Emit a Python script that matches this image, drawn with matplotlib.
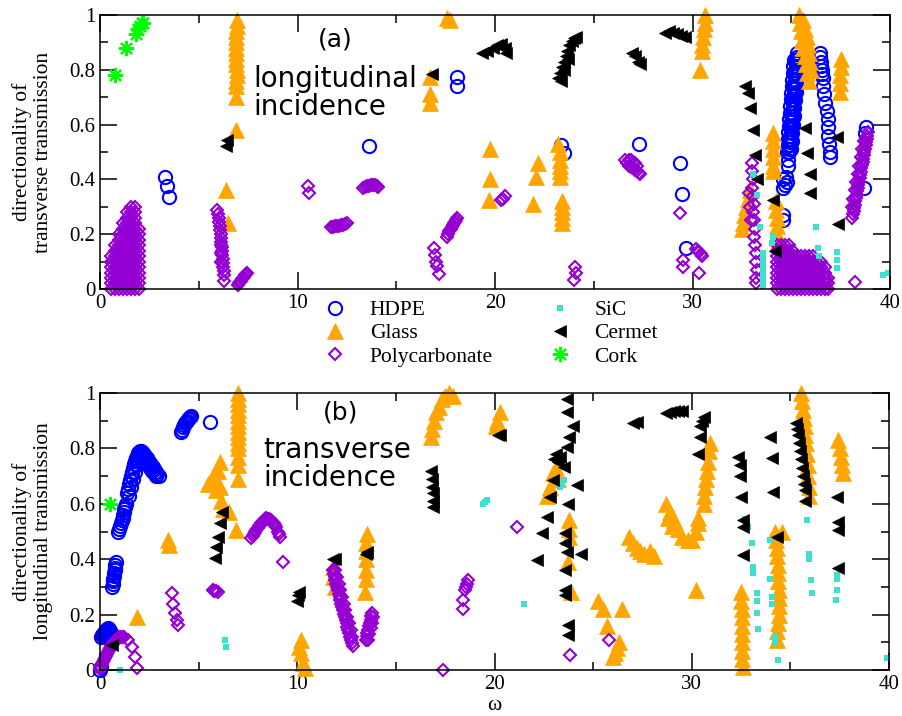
import matplotlib
matplotlib.use('Agg')
import matplotlib.pyplot as plt
from matplotlib.ticker import MultipleLocator, FuncFormatter
import numpy as np

plt.rcParams['font.family'] = 'serif'
plt.rcParams['font.serif'] = ['Liberation Serif', 'DejaVu Serif']

# (omega, directionality) pairs
# ---- panel (a): longitudinal incidence ----
hdpe_a = [(3.3, 0.41), (3.38, 0.375), (3.48, 0.335), (13.6, 0.52), (18.1, 0.775), (18.05, 0.74),
          (23.35, 0.525), (23.5, 0.495), (27.3, 0.53), (29.35, 0.46), (29.45, 0.345), (29.65, 0.15),
          (34.58, 0.25), (34.6, 0.27), (34.6, 0.37), (34.7, 0.38), (34.8, 0.39), (34.6, 0.40), (34.75, 0.41),
          (34.85, 0.45), (34.85, 0.47),
          (34.90, 0.500), (34.91, 0.512), (34.93, 0.524), (34.94, 0.536), (34.95, 0.548), (34.96, 0.560),
          (34.98, 0.572), (34.99, 0.584), (35.00, 0.596), (35.01, 0.608), (35.03, 0.620), (35.04, 0.632),
          (35.05, 0.644), (35.07, 0.656), (35.08, 0.668), (35.09, 0.680), (35.10, 0.692), (35.12, 0.704),
          (35.13, 0.716), (35.14, 0.728), (35.15, 0.740), (35.17, 0.752), (35.18, 0.764), (35.19, 0.776),
          (35.21, 0.788), (35.22, 0.800), (35.23, 0.812), (35.24, 0.824), (35.26, 0.836), (35.27, 0.848),
          (35.28, 0.860),
          (34.78, 0.50), (34.81, 0.524), (34.83, 0.548), (34.86, 0.572), (34.88, 0.596), (34.91, 0.62),
          (34.93, 0.644), (34.96, 0.668), (34.98, 0.692), (35.0, 0.716), (35.02, 0.74), (35.05, 0.764),
          (35.07, 0.788), (35.1, 0.812), (35.12, 0.836),
          (35.0, 0.51), (35.03, 0.54), (35.06, 0.57), (35.1, 0.60), (35.13, 0.63), (35.16, 0.66),
          (35.19, 0.69), (35.22, 0.72), (35.25, 0.75), (35.28, 0.78), (35.31, 0.81), (35.34, 0.84),
          (36.45, 0.86), (36.48, 0.845), (36.5, 0.83), (36.53, 0.815), (36.55, 0.80), (36.58, 0.785),
          (36.6, 0.77), (36.62, 0.74), (36.67, 0.71), (36.72, 0.68), (36.8, 0.65), (36.86, 0.62),
          (36.88, 0.59), (36.88, 0.56), (36.92, 0.53), (36.96, 0.50), (36.98, 0.48),
          (38.8, 0.59), (38.72, 0.57), (38.7, 0.37)]
glass_a = [(6.4, 0.36), (6.5, 0.24), (6.9, 0.58), (6.88, 0.70), (6.9, 0.74), (6.9, 0.76), (6.92, 0.78),
           (6.92, 0.80), (6.9, 0.82), (6.9, 0.84), (6.9, 0.86), (6.88, 0.88), (6.88, 0.90), (6.9, 0.92),
           (6.9, 0.94), (6.92, 0.96), (6.92, 0.98), (16.7, 0.68), (16.7, 0.71), (16.72, 0.775),
           (17.55, 0.99), (17.7, 0.98), (19.7, 0.325), (19.75, 0.40), (19.75, 0.51),
           (21.94, 0.31), (22.08, 0.41), (22.2, 0.46),
           (23.4, 0.24), (23.4, 0.26), (23.4, 0.28), (23.4, 0.30), (23.4, 0.32), (23.3, 0.41), (23.3, 0.43),
           (23.3, 0.45), (23.3, 0.47), (23.3, 0.50), (23.2, 0.53),
           (30.4, 0.80), (30.5, 0.87), (30.5, 0.89), (30.55, 0.92), (30.6, 0.95), (30.65, 0.97), (30.65, 1.0),
           (32.5, 0.22), (32.55, 0.24), (32.6, 0.27), (32.7, 0.30), (32.8, 0.33), (32.9, 0.36),
           (34.1, 0.43), (34.1, 0.45), (34.1, 0.48), (34.1, 0.51), (34.1, 0.54), (34.1, 0.57),
           (34.32, 0.17), (34.3, 0.20), (34.3, 0.23), (34.27, 0.26), (34.25, 0.29), (34.25, 0.32),
           (35.4, 1.0), (35.45, 0.97), (35.5, 0.94), (35.55, 0.91), (35.6, 0.88), (35.7, 0.85),
           (35.75, 0.82), (35.8, 0.79), (35.9, 0.76), (35.6, 0.98), (35.7, 0.95), (35.8, 0.92),
           (35.85, 0.89), (35.9, 0.86), (35.95, 0.83), (36.0, 0.80),
           (37.45, 0.72), (37.45, 0.75), (37.45, 0.78), (37.5, 0.81), (37.5, 0.84)]
poly_a = [(0.55, 0.0), (0.55, 0.02), (0.55, 0.04), (0.55, 0.06), (0.55, 0.08), (0.55, 0.10), (0.55, 0.12),
          (0.75, 0.0), (0.75, 0.02), (0.75, 0.04), (0.75, 0.06), (0.75, 0.08), (0.75, 0.10), (0.75, 0.12),
          (0.75, 0.14), (0.75, 0.16),
          (0.95, 0.0), (0.95, 0.02), (0.95, 0.04), (0.95, 0.06), (0.95, 0.08), (0.95, 0.10), (0.95, 0.12),
          (0.95, 0.14), (0.95, 0.16), (0.95, 0.18), (0.95, 0.20),
          (1.15, 0.0), (1.15, 0.02), (1.15, 0.04), (1.15, 0.06), (1.15, 0.08), (1.15, 0.10), (1.15, 0.12),
          (1.15, 0.14), (1.15, 0.16), (1.15, 0.18), (1.15, 0.20), (1.15, 0.22), (1.15, 0.24),
          (1.35, 0.0), (1.35, 0.02), (1.35, 0.04), (1.35, 0.06), (1.35, 0.08), (1.35, 0.10), (1.35, 0.12),
          (1.35, 0.14), (1.35, 0.16), (1.35, 0.18), (1.35, 0.20), (1.35, 0.22), (1.35, 0.24), (1.35, 0.26),
          (1.35, 0.28),
          (1.55, 0.0), (1.55, 0.02), (1.55, 0.04), (1.55, 0.06), (1.55, 0.08), (1.55, 0.10), (1.55, 0.12),
          (1.55, 0.14), (1.55, 0.16), (1.55, 0.18), (1.55, 0.20), (1.55, 0.22), (1.55, 0.24), (1.55, 0.26),
          (1.55, 0.28), (1.55, 0.30),
          (1.75, 0.0), (1.75, 0.02), (1.75, 0.04), (1.75, 0.06), (1.75, 0.08), (1.75, 0.10), (1.75, 0.12),
          (1.75, 0.14), (1.75, 0.16), (1.75, 0.18), (1.75, 0.20), (1.75, 0.22), (1.75, 0.24), (1.75, 0.26),
          (1.75, 0.28), (1.75, 0.30),
          (1.95, 0.0), (1.95, 0.02), (1.95, 0.04), (1.95, 0.06), (1.95, 0.08), (1.95, 0.10), (1.95, 0.12),
          (1.95, 0.14), (1.95, 0.16), (1.95, 0.18), (1.95, 0.20), (1.95, 0.22),
          (5.94, 0.29), (5.97, 0.275), (6.0, 0.26), (6.04, 0.245), (6.06, 0.23), (6.08, 0.215),
          (6.1, 0.20), (6.12, 0.185), (6.14, 0.17), (6.16, 0.155), (6.18, 0.14), (6.2, 0.125),
          (6.22, 0.11), (6.24, 0.095), (6.25, 0.08), (6.26, 0.065), (6.27, 0.05), (6.28, 0.03),
          (6.1, 0.16), (6.12, 0.13), (6.15, 0.10),
          (7.0, 0.015), (7.05, 0.02), (7.1, 0.025), (7.15, 0.03), (7.2, 0.035), (7.25, 0.04), (7.3, 0.045),
          (7.35, 0.05), (7.4, 0.055), (7.45, 0.06),
          (10.55, 0.375), (10.58, 0.35),
          (11.7, 0.225), (11.8, 0.227), (11.9, 0.23), (12.0, 0.23), (12.1, 0.23), (12.2, 0.232),
          (12.3, 0.235), (12.4, 0.237), (12.5, 0.24),
          (13.3, 0.37), (13.4, 0.372), (13.5, 0.375), (13.6, 0.377), (13.7, 0.378), (13.8, 0.379),
          (13.9, 0.38), (14.0, 0.375), (14.05, 0.372),
          (16.9, 0.148), (16.95, 0.125), (17.0, 0.10), (17.05, 0.085), (17.15, 0.055),
          (17.55, 0.19), (17.6, 0.20), (17.65, 0.21), (17.7, 0.215), (17.75, 0.22), (17.8, 0.228),
          (17.85, 0.235), (17.9, 0.24), (17.95, 0.245), (18.0, 0.25), (18.05, 0.26),
          (20.3, 0.325), (20.4, 0.33), (20.5, 0.34),
          (24.05, 0.08), (24.1, 0.057), (24.0, 0.033),
          (26.6, 0.47), (26.7, 0.46), (26.8, 0.45), (26.9, 0.445), (27.0, 0.44), (27.1, 0.435),
          (27.2, 0.43), (27.3, 0.425), (27.35, 0.42), (26.8, 0.47), (26.9, 0.47), (27.0, 0.465), (27.1, 0.46),
          (27.2, 0.45),
          (29.37, 0.276), (29.54, 0.106), (29.5, 0.08), (30.2, 0.145), (30.28, 0.14), (30.35, 0.135),
          (30.42, 0.128), (30.5, 0.12), (30.35, 0.06),
          (32.85, 0.35), (32.9, 0.30), (32.95, 0.25),
          (33.0, 0.46), (33.0, 0.43), (33.05, 0.40), (33.0, 0.37), (33.05, 0.34), (33.1, 0.31),
          (33.05, 0.28), (33.1, 0.25), (33.15, 0.22), (33.1, 0.19), (33.15, 0.16), (33.2, 0.13),
          (33.2, 0.10), (33.25, 0.07), (33.2, 0.04), (33.2, 0.02),
          (34.3, 0.0), (34.3, 0.02), (34.3, 0.04), (34.3, 0.06), (34.3, 0.08), (34.3, 0.10), (34.3, 0.12),
          (34.3, 0.14), (34.3, 0.16),
          (34.5, 0.0), (34.5, 0.02), (34.5, 0.04), (34.5, 0.06), (34.5, 0.08), (34.5, 0.10), (34.5, 0.12),
          (34.5, 0.14), (34.5, 0.16),
          (34.7, 0.0), (34.7, 0.02), (34.7, 0.04), (34.7, 0.06), (34.7, 0.08), (34.7, 0.10), (34.7, 0.12),
          (34.7, 0.14), (34.7, 0.16),
          (34.9, 0.0), (34.9, 0.02), (34.9, 0.04), (34.9, 0.06), (34.9, 0.08), (34.9, 0.10), (34.9, 0.12),
          (34.9, 0.14), (34.9, 0.16),
          (35.1, 0.0), (35.1, 0.02), (35.1, 0.04), (35.1, 0.06), (35.1, 0.08), (35.1, 0.10), (35.1, 0.12),
          (35.1, 0.14),
          (35.3, 0.0), (35.3, 0.02), (35.3, 0.04), (35.3, 0.06), (35.3, 0.08), (35.3, 0.10), (35.3, 0.12),
          (35.5, 0.0), (35.5, 0.02), (35.5, 0.04), (35.5, 0.06), (35.5, 0.08), (35.5, 0.10), (35.5, 0.12),
          (35.7, 0.0), (35.7, 0.02), (35.7, 0.04), (35.7, 0.06), (35.7, 0.08), (35.7, 0.10), (35.7, 0.12),
          (35.9, 0.0), (35.9, 0.02), (35.9, 0.04), (35.9, 0.06), (35.9, 0.08), (35.9, 0.10), (35.9, 0.12),
          (36.1, 0.0), (36.1, 0.02), (36.1, 0.04), (36.1, 0.06), (36.1, 0.08), (36.1, 0.10), (36.1, 0.12),
          (36.3, 0.0), (36.3, 0.02), (36.3, 0.04), (36.3, 0.06), (36.3, 0.08), (36.3, 0.10),
          (36.5, 0.0), (36.5, 0.02), (36.5, 0.04), (36.5, 0.06), (36.5, 0.08), (36.5, 0.10),
          (36.7, 0.0), (36.7, 0.02), (36.7, 0.04), (36.7, 0.06), (36.7, 0.08),
          (36.85, 0.0), (36.85, 0.02), (36.85, 0.04),
          (38.10, 0.26), (38.13, 0.272), (38.16, 0.284), (38.19, 0.296), (38.22, 0.308), (38.25, 0.32),
          (38.28, 0.332), (38.31, 0.344), (38.34, 0.356), (38.37, 0.368), (38.4, 0.38), (38.43, 0.392),
          (38.46, 0.404), (38.49, 0.416), (38.52, 0.428), (38.55, 0.44), (38.58, 0.452), (38.61, 0.464),
          (38.64, 0.476), (38.67, 0.488), (38.7, 0.50), (38.73, 0.512), (38.76, 0.524), (38.79, 0.536),
          (38.82, 0.548), (38.85, 0.56), (38.88, 0.572),
          (38.1, 0.30), (38.15, 0.33), (38.22, 0.36), (38.3, 0.39), (38.37, 0.42), (38.44, 0.45),
          (38.52, 0.48), (38.6, 0.51), (38.68, 0.54), (38.23, 0.027)]
sic_a = [(33.07, 0.42), (33.26, 0.343), (33.42, 0.227), (33.58, 0.13), (33.58, 0.11), (33.58, 0.09),
         (33.58, 0.07), (33.58, 0.05), (33.58, 0.03), (33.58, 0.01), (34.08, 0.19), (34.0, 0.168),
         (36.25, 0.226), (36.33, 0.15), (36.4, 0.12), (37.3, 0.136), (37.3, 0.105), (37.3, 0.075),
         (39.66, 0.05), (39.9, 0.06)]
cermet_a = [(6.41, 0.545), (6.38, 0.52), (16.8, 0.785),
            (19.35, 0.86), (19.6, 0.87), (19.9, 0.88), (20.1, 0.89), (20.3, 0.895), (20.5, 0.88), (20.55, 0.86),
            (23.2, 0.77), (23.35, 0.76), (23.3, 0.79), (23.4, 0.81), (23.5, 0.80), (23.5, 0.83), (23.6, 0.85),
            (23.7, 0.84), (23.65, 0.87), (23.75, 0.89), (23.9, 0.905), (24.0, 0.915), (24.1, 0.92),
            (26.95, 0.86), (27.1, 0.85), (27.25, 0.83), (27.35, 0.82),
            (28.6, 0.935), (28.8, 0.94), (29.0, 0.935), (29.2, 0.93), (29.4, 0.925), (29.6, 0.92),
            (32.66, 0.74), (32.8, 0.714), (32.9, 0.66), (33.07, 0.58), (33.16, 0.49), (33.26, 0.40),
            (34.08, 0.325), (34.18, 0.14), (35.7, 0.587), (35.8, 0.496), (35.95, 0.42), (35.95, 0.35),
            (37.3, 0.556), (37.37, 0.237)]
cork_a = [(0.75, 0.78), (1.3, 0.88), (1.8, 0.93), (1.9, 0.95), (2.0, 0.96), (2.1, 0.97), (2.2, 0.97)]

# ---- panel (b): transverse incidence ----
hdpe_b = [(0.0, 0.0), (0.05, 0.01),
          (0.05, 0.12), (0.1, 0.125), (0.15, 0.13), (0.2, 0.135), (0.25, 0.14), (0.3, 0.145), (0.35, 0.148),
          (0.4, 0.15), (0.45, 0.148), (0.5, 0.14), (0.55, 0.135), (0.3, 0.12), (0.4, 0.125),
          (0.62, 0.30), (0.64, 0.31), (0.66, 0.32), (0.68, 0.33), (0.7, 0.34), (0.72, 0.35), (0.74, 0.36),
          (0.76, 0.37), (0.78, 0.38), (0.8, 0.39),
          (0.92, 0.50), (0.96, 0.51), (1.0, 0.52), (1.05, 0.53), (1.1, 0.54), (1.15, 0.55), (1.18, 0.56),
          (1.21, 0.57), (1.24, 0.58), (1.27, 0.59), (1.3, 0.60),
          (1.35, 0.64), (1.4, 0.655), (1.45, 0.67), (1.5, 0.685), (1.55, 0.70), (1.6, 0.715), (1.65, 0.73),
          (1.7, 0.742), (1.75, 0.754), (1.8, 0.765), (1.85, 0.773), (1.9, 0.78), (1.95, 0.785),
          (2.0, 0.788), (2.05, 0.79), (2.1, 0.79), (2.15, 0.788), (2.2, 0.784), (2.25, 0.778),
          (2.3, 0.772), (2.38, 0.765), (2.45, 0.757), (2.52, 0.749), (2.6, 0.741), (2.68, 0.732),
          (2.75, 0.724), (2.82, 0.716), (2.9, 0.708), (2.97, 0.70),
          (1.45, 0.63), (1.55, 0.66), (1.65, 0.69), (1.75, 0.715), (1.85, 0.74), (1.95, 0.755),
          (2.05, 0.765), (2.15, 0.765), (2.25, 0.76), (2.35, 0.75), (2.45, 0.74), (2.55, 0.73),
          (2.65, 0.72), (2.75, 0.71), (2.85, 0.70),
          (4.1, 0.86), (4.15, 0.868), (4.2, 0.876), (4.25, 0.884), (4.3, 0.89), (4.35, 0.896), (4.4, 0.90),
          (4.45, 0.905), (4.5, 0.91), (4.55, 0.913), (4.6, 0.916), (5.56, 0.896)]
glass_b = [(1.85, 0.19), (3.46, 0.47), (3.5, 0.45),
           (5.48, 0.67), (5.73, 0.70), (5.9, 0.65), (6.07, 0.75), (6.0, 0.72), (6.15, 0.61), (6.24, 0.58),
           (6.55, 0.57), (5.8, 0.67), (6.1, 0.66),
           (7.0, 0.69), (7.0, 0.74), (7.0, 0.77), (7.0, 0.80), (6.98, 0.82), (7.0, 0.84), (7.0, 0.86),
           (7.02, 0.88), (7.0, 0.90), (7.0, 0.92), (6.98, 0.94), (7.0, 0.96), (7.0, 0.98), (7.0, 1.0),
           (6.9, 0.505),
           (10.2, 0.108), (10.1, 0.084), (10.2, 0.06), (10.3, 0.024), (10.37, 0.006),
           (11.8, 0.373), (11.8, 0.337), (11.9, 0.30),
           (13.55, 0.49), (13.5, 0.46), (13.5, 0.43), (13.5, 0.40), (13.5, 0.36), (13.5, 0.33), (13.45, 0.28),
           (16.8, 0.84), (16.85, 0.87), (16.95, 0.90), (17.05, 0.93), (17.2, 0.95), (17.35, 0.98),
           (17.5, 0.99), (17.7, 1.0), (17.9, 0.99),
           (20.1, 0.88), (20.15, 0.90), (20.28, 0.93),
           (22.64, 0.63), (22.8, 0.66), (22.98, 0.71), (23.1, 0.73), (23.2, 0.69),
           (23.8, 0.54), (23.8, 0.51), (23.8, 0.48), (23.74, 0.39), (23.9, 0.28),
           (25.26, 0.25), (25.5, 0.22), (25.7, 0.16), (26.44, 0.22), (26.3, 0.10), (26.2, 0.08),
           (26.1, 0.06), (26.0, 0.048),
           (26.8, 0.48), (27.0, 0.46), (27.2, 0.44), (27.4, 0.43), (27.6, 0.42), (27.9, 0.43), (28.1, 0.41),
           (28.7, 0.60), (28.9, 0.57), (29.1, 0.54), (29.3, 0.51), (29.5, 0.48), (29.8, 0.47), (30.0, 0.47),
           (30.2, 0.50), (30.3, 0.53), (30.3, 0.55), (28.8, 0.55), (29.0, 0.52),
           (30.9, 0.82), (30.85, 0.79), (30.8, 0.75), (30.75, 0.72), (30.7, 0.69), (30.65, 0.66),
           (30.6, 0.63), (30.6, 0.60), (30.2, 0.29),
           (32.5, 0.28), (32.5, 0.25), (32.55, 0.22), (32.55, 0.19), (32.55, 0.16), (32.55, 0.13),
           (32.55, 0.10), (32.55, 0.07), (32.55, 0.04), (32.6, 0.01),
           (34.2, 0.50), (34.6, 0.50), (34.25, 0.47), (34.3, 0.44), (34.3, 0.41), (34.35, 0.38),
           (34.35, 0.35), (34.35, 0.32), (34.4, 0.29), (34.4, 0.26), (34.4, 0.23), (34.4, 0.20),
           (34.35, 0.17), (34.3, 0.14), (34.3, 0.11),
           (35.55, 1.0), (35.6, 0.97), (35.65, 0.94), (35.7, 0.91), (35.75, 0.88), (35.75, 0.85),
           (35.8, 0.82), (35.85, 0.78), (35.9, 0.74), (35.9, 0.70), (35.95, 0.66), (35.95, 0.63),
           (37.4, 0.83), (37.5, 0.80), (37.55, 0.77), (37.6, 0.74), (37.65, 0.71)]
poly_b = [(0.0, 0.005), (0.05, 0.012), (0.1, 0.02), (0.15, 0.028), (0.2, 0.035), (0.25, 0.042), (0.3, 0.05),
          (0.35, 0.058), (0.4, 0.065), (0.45, 0.072), (0.5, 0.08), (0.55, 0.085), (0.6, 0.09), (0.65, 0.095),
          (0.7, 0.10), (0.75, 0.105), (0.8, 0.11), (0.85, 0.112), (0.9, 0.115), (0.98, 0.118),
          (1.05, 0.12), (1.12, 0.12), (1.2, 0.12),
          (1.43, 0.108), (1.6, 0.084), (1.77, 0.048), (1.85, 0.006),
          (3.63, 0.277), (3.7, 0.24), (3.8, 0.205), (3.88, 0.18), (3.96, 0.162),
          (5.73, 0.289), (5.8, 0.287), (5.9, 0.285), (5.99, 0.283),
          (7.67, 0.475), (7.74, 0.483), (7.8, 0.49), (7.87, 0.498), (7.93, 0.505), (8.0, 0.513),
          (8.05, 0.52), (8.12, 0.525), (8.18, 0.53), (8.24, 0.535), (8.3, 0.54), (8.37, 0.545),
          (8.43, 0.548), (8.5, 0.547), (8.55, 0.545), (8.62, 0.543), (8.68, 0.54), (8.74, 0.535),
          (8.8, 0.53), (8.87, 0.524), (8.94, 0.517), (9.0, 0.50), (9.05, 0.49), (9.1, 0.48), (9.27, 0.39),
          (11.80, 0.36), (11.84, 0.348), (11.89, 0.336), (11.93, 0.324), (11.97, 0.312), (12.02, 0.30),
          (12.06, 0.288), (12.11, 0.276), (12.15, 0.264), (12.19, 0.252), (12.24, 0.24), (12.28, 0.228),
          (12.32, 0.216), (12.37, 0.204), (12.41, 0.192), (12.45, 0.18), (12.5, 0.168), (12.54, 0.156),
          (12.59, 0.144), (12.63, 0.132), (12.67, 0.12), (12.72, 0.108), (12.76, 0.096), (12.8, 0.085),
          (11.92, 0.36), (12.01, 0.336), (12.1, 0.312), (12.18, 0.288), (12.27, 0.264), (12.36, 0.24),
          (12.44, 0.216), (12.53, 0.192), (12.62, 0.168), (12.7, 0.144), (12.79, 0.12),
          (13.5, 0.11), (13.53, 0.122), (13.56, 0.134), (13.6, 0.146), (13.64, 0.158), (13.68, 0.17),
          (13.72, 0.182), (13.76, 0.194), (13.8, 0.205), (13.6, 0.11), (13.66, 0.13), (13.72, 0.15),
          (13.78, 0.17), (13.84, 0.19),
          (17.37, 0.0), (18.4, 0.222), (18.42, 0.253), (18.5, 0.289), (18.55, 0.30), (18.6, 0.31),
          (18.67, 0.325), (21.12, 0.517), (23.82, 0.054), (25.82, 0.11)]
sic_b = [(1.01, 0.0), (6.32, 0.108), (6.4, 0.084), (19.43, 0.60), (19.5, 0.607), (19.6, 0.614), (21.5, 0.238),
         (23.3, 0.66), (23.4, 0.67), (23.5, 0.686),
         (32.7, 0.547), (32.86, 0.517), (33.04, 0.457), (33.1, 0.373), (33.1, 0.35), (33.3, 0.277),
         (33.3, 0.25), (33.3, 0.205), (33.37, 0.147), (33.96, 0.47), (33.96, 0.33), (34.05, 0.265),
         (34.05, 0.24), (34.22, 0.12), (34.22, 0.10), (34.38, 0.036), (35.86, 0.54), (35.96, 0.42),
         (35.96, 0.40), (36.03, 0.325), (36.08, 0.277), (37.34, 0.343), (37.34, 0.33), (37.36, 0.289),
         (37.31, 0.253), (39.88, 0.042)]
cermet_b = [(0.6, 0.09), (6.16, 0.57), (6.07, 0.53), (5.99, 0.48), (5.9, 0.445), (5.82, 0.403),
            (10.0, 0.25), (10.05, 0.27), (10.1, 0.28), (11.8, 0.40), (11.9, 0.40), (13.5, 0.42), (13.55, 0.425),
            (16.78, 0.72), (16.82, 0.69), (16.85, 0.66), (16.86, 0.64), (16.9, 0.61), (16.88, 0.59),
            (20.19, 0.85), (20.3, 0.85),
            (23.66, 0.98), (23.66, 0.93), (24.0, 0.88), (23.8, 0.84), (23.66, 0.806), (23.32, 0.77),
            (23.1, 0.78), (23.2, 0.75), (23.0, 0.76), (23.5, 0.734), (22.98, 0.686), (24.17, 0.668),
            (22.81, 0.626), (23.74, 0.60), (22.64, 0.553), (22.4, 0.493), (23.57, 0.493), (23.57, 0.457),
            (23.66, 0.427), (24.4, 0.42), (22.13, 0.397), (23.57, 0.36), (23.57, 0.289), (23.57, 0.27),
            (23.74, 0.162), (23.74, 0.126),
            (27.0, 0.89), (27.2, 0.896),
            (28.7, 0.927), (28.9, 0.93), (29.1, 0.935), (29.3, 0.935), (29.5, 0.935),
            (30.6, 0.915), (30.5, 0.90), (30.4, 0.88), (30.4, 0.84), (30.3, 0.78),
            (32.36, 0.77), (32.45, 0.74), (32.45, 0.70), (32.5, 0.626), (32.6, 0.54), (32.6, 0.517),
            (32.6, 0.415), (33.96, 0.842), (34.05, 0.764), (34.13, 0.644), (34.3, 0.48),
            (35.3, 0.89), (35.35, 0.87), (35.4, 0.85), (35.45, 0.82), (35.5, 0.79), (35.55, 0.76),
            (35.6, 0.73), (35.65, 0.70), (35.7, 0.67), (35.72, 0.65), (35.74, 0.61),
            (37.34, 0.626), (37.43, 0.535), (37.43, 0.505), (37.43, 0.367)]
cork_b = [(0.5, 0.60)]

materials = ['HDPE', 'Glass', 'Polycarbonate', 'SiC', 'Cermet', 'Cork']
panel_a = [hdpe_a, glass_a, poly_a, sic_a, cermet_a, cork_a]
panel_b = [hdpe_b, glass_b, poly_b, sic_b, cermet_b, cork_b]

style = {
    'HDPE': dict(marker='o', ms=9.5, mfc='none', mec='#0000ff', mew=1.5),
    'Glass': dict(marker='^', ms=11, mfc='#ffa500', mec='#ffa500', mew=0.5),
    'Polycarbonate': dict(marker='D', ms=6.5, mfc='none', mec='#9400d3', mew=1.5),
    'SiC': dict(marker='s', ms=5, mfc='#40e0d0', mec='#40e0d0', mew=0),
    'Cermet': dict(marker='<', ms=8.5, mfc='black', mec='black', mew=0.5),
    'Cork': dict(marker=(8, 2, 0), ms=11, mec='#00ff00', mfc='#00ff00', mew=1.6),
}


def draw(ax, panel):
    for name, pts in zip(materials, panel):
        w, d = np.array(pts).T
        ax.plot(w, d, ls='none', clip_on=False, label=name, **style[name])
    ax.set_xlim(0, 40)
    ax.set_ylim(0, 1)
    ax.xaxis.set_major_locator(MultipleLocator(10))
    ax.xaxis.set_minor_locator(MultipleLocator(5))
    ax.yaxis.set_major_locator(MultipleLocator(0.2))
    ax.yaxis.set_minor_locator(MultipleLocator(0.1))
    ax.yaxis.set_major_formatter(FuncFormatter(lambda v, p: '%g' % round(v, 2)))
    ax.tick_params(which='both', direction='in', top=True, right=True, labelsize=15, width=1.1)
    ax.tick_params(which='major', length=12)
    ax.tick_params(which='minor', length=6)
    for s in ax.spines.values():
        s.set_linewidth(1.1)


fig = plt.figure(figsize=(9.02, 7.16), dpi=100)
ax1 = fig.add_axes([0.1109, 0.5964, 0.8758, 0.3827])
ax2 = fig.add_axes([0.1109, 0.0642, 0.8747, 0.3869])
draw(ax1, panel_a)
draw(ax2, panel_b)

ax1.set_ylabel('directionality of\ntransverse transmission', fontsize=15.5, linespacing=1.1)
ax2.set_ylabel('directionality of\nlongitudinal transmission', fontsize=15.5, linespacing=1.1)
ax1.yaxis.set_label_coords(-0.06, 0.5)
ax2.yaxis.set_label_coords(-0.06, 0.5)
ax2.set_xlabel('\u03c9', fontsize=15.5)
ax2.xaxis.set_label_coords(0.5, -0.095)

ax1.text(11.9, 0.91, '(a)', fontsize=18, family='DejaVu Sans', ha='center', va='center')
ax1.text(7.75, 0.717, 'longitudinal\nincidence', fontsize=20, family='DejaVu Sans',
         ha='left', va='center', linespacing=1.0)
ax2.text(12.17, 0.928, '(b)', fontsize=18, family='DejaVu Sans', ha='center', va='center')
ax2.text(8.26, 0.744, 'transverse\nincidence', fontsize=20, family='DejaVu Sans',
         ha='left', va='center', linespacing=1.0)

handles, labels = ax1.get_legend_handles_labels()
fig.legend(handles, labels, ncol=2, loc='upper left', bbox_to_anchor=(0.36, 0.581),
           frameon=False, fontsize=15.5, handlelength=1.0, handletextpad=1.1,
           columnspacing=2.6, labelspacing=0.15, borderaxespad=0, borderpad=0)

fig.savefig('out.png', dpi=100)
